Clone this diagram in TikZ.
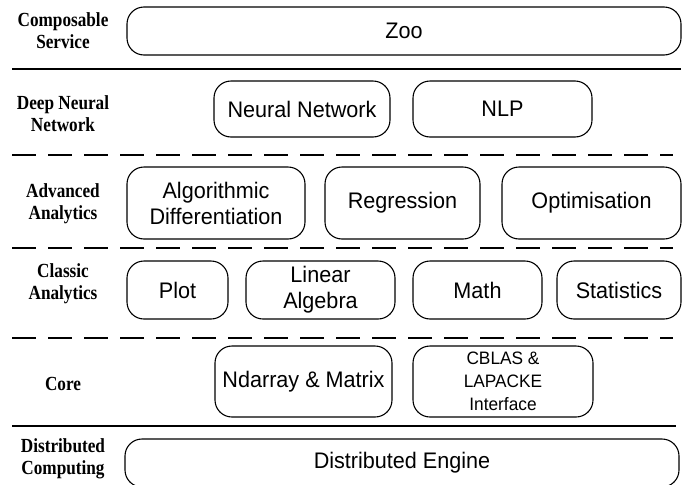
\documentclass[tikz,border=0pt]{standalone}
\usepackage{fontspec}
\setmainfont{Liberation Serif}
\newfontfamily\boxfont[FakeStretch=0.96]{Liberation Sans}
\newfontfamily\layerfont[FakeStretch=0.86]{Liberation Serif}
\begin{document}
\begin{tikzpicture}[x=1pt,y=-1pt,
  box/.style={draw, line width=1.1pt, rounded corners=17pt, align=center, inner sep=0pt,
    font=\boxfont\fontsize{22.5}{26}\selectfont},
  smallbox/.style={box, font=\boxfont\fontsize{18}{23}\selectfont},
  layer/.style={align=center, font=\layerfont\bfseries\fontsize{20}{22}\selectfont},
  sep/.style={line width=2.4pt},
  dsep/.style={line width=2.4pt, dash pattern=on 24pt off 12pt}]
\useasboundingbox (0,0) rectangle (686,485);
% layer labels
\node[layer] (l1) at (63,31) {Composable\\Service};
\node[layer] (l2) at (63,114) {Deep Neural\\Network};
\node[layer] (l3) at (63,204) {Advanced\\Analytics};
\node[layer] (l4) at (63,284) {Classic\\Analytics};
\node[layer] (l5) at (63,384) {Core};
\node[layer] (l6) at (63,459) {Distributed\\Computing};
% boxes
\node[box, minimum width=554, minimum height=48] (zoo) at (404,31) {Zoo};
\node[box, minimum width=176, minimum height=56] (nn) at (302,109) {Neural Network};
\node[box, minimum width=179, minimum height=56] (nlp) at (502.5,109) {NLP};
\node[box, minimum width=178, minimum height=72] (ad) at (216,203) {Algorithmic\\Differentiation};
\node[box, minimum width=155, minimum height=72] (reg) at (402.5,203) {Regression};
\node[box, minimum width=179, minimum height=72] (opt) at (591.5,203) {Optimisation};
\node[box, minimum width=101, minimum height=58] (plot) at (177.5,290) {Plot};
\node[box, minimum width=149, minimum height=58] (la) at (320.5,290) {Linear\\Algebra};
\node[box, minimum width=129, minimum height=58] (math) at (477.5,290) {Math};
\node[box, minimum width=124, minimum height=58] (stat) at (619,290) {Statistics};
\node[box, minimum width=177, minimum height=71] (nd) at (303.5,381.5) {Ndarray \& Matrix};
\node[smallbox, minimum width=180, minimum height=71] (cb) at (503,381.5) {CBLAS \&\\LAPACKE\\Interface};
\node[box, minimum width=554, minimum height=48] (de) at (402,463) {Distributed Engine};
% separators
\coordinate (s1a) at (12,69);  \coordinate (s1b) at (681,69);
\coordinate (s2a) at (12,155); \coordinate (s2b) at (673,155);
\coordinate (s3a) at (12,248); \coordinate (s3b) at (673,248);
\coordinate (s4a) at (12,338); \coordinate (s4b) at (673,338);
\coordinate (s5a) at (12,426); \coordinate (s5b) at (676,426);
\draw[sep] (s1a) -- (s1b);
\draw[dsep] (s2a) -- (s2b);
\draw[dsep] (s3a) -- (s3b);
\draw[dsep] (s4a) -- (s4b);
\draw[sep] (s5a) -- (s5b);
\end{tikzpicture}
\end{document}
